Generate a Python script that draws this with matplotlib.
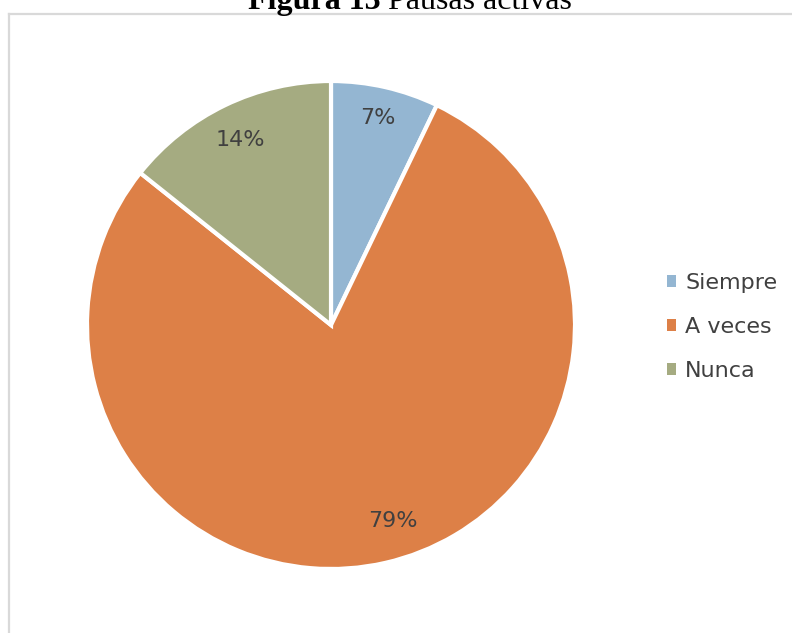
import matplotlib
matplotlib.use("Agg")
import matplotlib.pyplot as plt
from matplotlib.patches import Patch
from matplotlib.lines import Line2D

# Datos del grafico
categorias = ["Siempre", "A veces", "Nunca"]
respuestas = [1, 11, 2]
colores = ["#94B6D2", "#DD8047", "#A5AB81"]

titulo_negrita = "Figura 13"
titulo_normal = "Pausas activas"

W, H = 792, 633
fig = plt.figure(figsize=(W / 100, H / 100), dpi=100)
fig.patch.set_facecolor("white")

# Borde del area del grafico (solo se ven lado izquierdo y superior)
borde = "#D9D9D9"
fig.add_artist(Line2D([8.5 / W, 8.5 / W], [0, 1 - 13.5 / H], transform=fig.transFigure,
                      color=borde, lw=1.6))
fig.add_artist(Line2D([8.5 / W, 1], [1 - 13.5 / H, 1 - 13.5 / H], transform=fig.transFigure,
                      color=borde, lw=1.6))

# Titulo (recortado arriba, como en la imagen original)
fig.text(381 / W, 1 - 9 / H, titulo_negrita, ha="right", va="baseline",
         family="Liberation Serif", weight="bold", fontsize=23, color="black")
fig.text(388 / W, 1 - 9 / H, titulo_normal, ha="left", va="baseline",
         family="Liberation Serif", fontsize=23, color="black")

# Pastel
cx, cy, r = 331, 325, 244
ax = fig.add_axes([(cx - r) / W, (H - cy - r) / H, 2 * r / W, 2 * r / H])
wedges, textos, pcts = ax.pie(
    respuestas, colors=colores, startangle=90, counterclock=False,
    autopct="%1.0f%%", pctdistance=0.86, radius=1,
    wedgeprops=dict(edgecolor="white", linewidth=3),
    textprops=dict(color="#404040", fontsize=16, family="DejaVu Sans"))
pcts[0].set_position((0.19, 0.85))
pcts[1].set_position((0.255, -0.805))
pcts[2].set_position((-0.37, 0.76))
ax.set_xlim(-1, 1)
ax.set_ylim(-1, 1)
ax.set_aspect("equal")
ax.axis("off")

# Leyenda
handles = [Patch(facecolor=c, edgecolor="none") for c in colores]
fig.legend(handles, categorias, loc="center left",
           bbox_to_anchor=(667 / W, 1 - 327 / H), frameon=False,
           borderpad=0, borderaxespad=0, handlelength=0.42, handleheight=0.42,
           handletextpad=0.4, labelspacing=1.08,
           prop=dict(family="DejaVu Sans", size=16), labelcolor="#404040")

fig.savefig("out.png", dpi=100)
